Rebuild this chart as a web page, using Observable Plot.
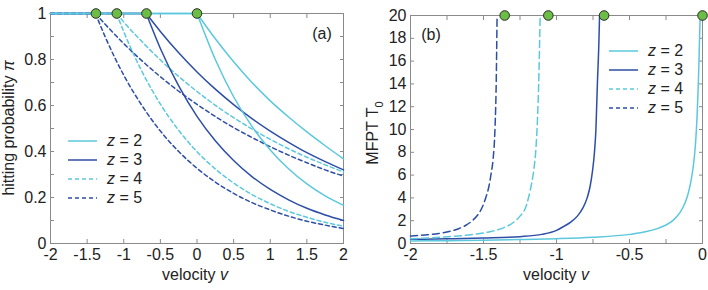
<!DOCTYPE html>
<html><head><meta charset="utf-8">
<script src="https://cdn.jsdelivr.net/npm/d3@7"></script>
<script src="https://cdn.jsdelivr.net/npm/@observablehq/plot@0.6"></script>
<style>
body{margin:0;background:#fff;}
#wrap{position:relative;width:708px;height:290px;font-family:"Liberation Sans",Arial,sans-serif;color:#222;overflow:hidden;}
.pl{position:absolute;top:0;}
.lbl{position:absolute;font-size:16px;white-space:nowrap;transform:translate(-50%,-50%);line-height:1;}
.rot{transform:translate(-50%,-50%) rotate(-90deg);}
.leg{position:absolute;font-size:16px;line-height:1;}
.leg .row{display:flex;align-items:center;height:19px;}
.leg svg{margin-right:10px;}
</style></head><body><div id="wrap"></div>
<script>
// ---------- Panel (a): hitting probability vs velocity ----------
const vCritA = [0, -0.693, -1.099, -1.386];          // z = 2,3,4,5
const dotsA = [-1.38, -1.095, -0.69, 0];

const vA2 = [-2, 0, 0.25, 0.5, 0.75, 1, 1.25, 1.5, 1.75, 2];
const piA2hi = [1, 1, 0.89, 0.79, 0.70, 0.62, 0.55, 0.485, 0.425, 0.368];
const piA2lo = [1, 1, 0.80, 0.638, 0.509, 0.407, 0.325, 0.259, 0.207, 0.166];

const vA3 = [-2, -0.693, -0.5, -0.25, 0, 0.25, 0.5, 0.75, 1, 1.25, 1.5, 1.75, 2];
const piA3hi = [1, 1, 0.922, 0.829, 0.746, 0.671, 0.604, 0.543, 0.489, 0.440, 0.395, 0.356, 0.320];
const piA3lo = [1, 1, 0.848, 0.685, 0.553, 0.447, 0.361, 0.291, 0.235, 0.190, 0.153, 0.124, 0.100];

const vA4 = [-2, -1.099, -1, -0.75, -0.5, -0.25, 0, 0.25, 0.5, 0.75, 1, 1.25, 1.5, 1.75, 2];
const piA4hi = [1, 1, 0.963, 0.877, 0.798, 0.726, 0.661, 0.601, 0.547, 0.498, 0.453, 0.412, 0.375, 0.342, 0.311];
const piA4lo = [1, 1, 0.921, 0.747, 0.606, 0.492, 0.399, 0.324, 0.263, 0.213, 0.173, 0.140, 0.114, 0.092, 0.075];

const vA5 = [-2, -1.386, -1.25, -1, -0.75, -0.5, -0.25, 0, 0.25, 0.5, 0.75, 1, 1.25, 1.5, 1.75, 2];
const piA5hi = [1, 1, 0.952, 0.869, 0.794, 0.725, 0.662, 0.605, 0.552, 0.504, 0.461, 0.421, 0.384, 0.351, 0.320, 0.293];
const piA5lo = [1, 1, 0.896, 0.732, 0.599, 0.489, 0.400, 0.327, 0.267, 0.218, 0.178, 0.146, 0.119, 0.097, 0.080, 0.065];

const xTicksA = [-2, -1.5, -1, -0.5, 0, 0.5, 1, 1.5, 2];
const yTicksA = [0, 0.1, 0.2, 0.3, 0.4, 0.5, 0.6, 0.7, 0.8, 0.9, 1];
const yLabelsA = [0, 0.2, 0.4, 0.6, 0.8, 1];

// ---------- Panel (b): MFPT vs velocity ----------
const dotsB = [-1.355, -1.056, -0.674, 0];

const vB2 = [-2, -1.75, -1.5, -1.25, -1, -0.75, -0.5, -0.4, -0.3, -0.25, -0.2, -0.17, -0.15, -0.12, -0.1, -0.08, -0.065, -0.055, -0.045, -0.037, -0.03, -0.025, -0.021, -0.018, -0.016];
const tB2 = [0.22, 0.25, 0.29, 0.34, 0.42, 0.55, 0.8, 1.0, 1.35, 1.62, 2.05, 2.45, 2.8, 3.55, 4.3, 5.4, 6.6, 7.7, 9.3, 11.2, 13.5, 15.6, 17.6, 19, 20];

const vB3 = [-2, -1.75, -1.5, -1.25, -1.1, -1.0, -0.95, -0.9, -0.857, -0.82, -0.79, -0.77, -0.754, -0.74, -0.73, -0.72, -0.71, -0.705];
const tB3 = [0.37, 0.41, 0.48, 0.6, 0.8, 1.15, 1.5, 1.9, 2.4, 3.1, 4.0, 5.0, 6.3, 8.0, 10, 14, 17.5, 20];

const vB4 = [-2, -1.8, -1.6, -1.45, -1.35, -1.3, -1.25, -1.21, -1.19, -1.17, -1.155, -1.14, -1.13, -1.12, -1.112];
const tB4 = [0.42, 0.55, 0.75, 1.05, 1.45, 1.8, 2.4, 3.2, 4.1, 5.3, 6.5, 8.5, 11, 15, 20];

const vB5 = [-2, -1.9, -1.806, -1.72, -1.67, -1.62, -1.577, -1.54, -1.508, -1.485, -1.463, -1.447, -1.435, -1.421, -1.413, -1.407];
const tB5 = [0.66, 0.75, 0.88, 1.1, 1.3, 1.6, 2.0, 2.5, 3.2, 4.0, 5.0, 6.2, 7.3, 10.2, 14, 20];

const xTicksB = [-2, -1.75, -1.5, -1.25, -1, -0.75, -0.5, -0.25, 0];
const xLabelsB = [-2, -1.5, -1, -0.5, 0];
const yTicksB = [0, 2, 4, 6, 8, 10, 12, 14, 16, 18, 20];

const zLabels = ["2", "3", "4", "5"];

// ---------- styles ----------
const CYAN = "#5cc8dd", DARK = "#2d4ea6", GREEN = "#6cbd45", AXIS = "#8a8a8a";
const styleZ = [
  {stroke: CYAN, dash: null},
  {stroke: DARK, dash: null},
  {stroke: CYAN, dash: "4,3"},
  {stroke: DARK, dash: "4,3"}
];
const FONT = "Liberation Sans, Arial, sans-serif";

const zip = (xs, ys) => xs.map((x, i) => ({x, y: ys[i]}));

const seriesA = [
  {z: 3, vc: vCritA[3], hi: zip(vA5, piA5hi), lo: zip(vA5, piA5lo)},
  {z: 2, vc: vCritA[2], hi: zip(vA4, piA4hi), lo: zip(vA4, piA4lo)},
  {z: 1, vc: vCritA[1], hi: zip(vA3, piA3hi), lo: zip(vA3, piA3lo)},
  {z: 0, vc: vCritA[0], hi: zip(vA2, piA2hi), lo: zip(vA2, piA2lo)}
];
const seriesB = [
  {z: 0, d: zip(vB2, tB2)},
  {z: 1, d: zip(vB3, tB3)},
  {z: 2, d: zip(vB4, tB4)},
  {z: 3, d: zip(vB5, tB5)}
];

function tickAxes(xt, yt) {
  const o = {tickSize: -4, tickFormat: () => "", stroke: AXIS, label: null};
  return [
    Plot.axisX(xt, {anchor: "bottom", ...o}),
    Plot.axisX(xt, {anchor: "top", ...o}),
    Plot.axisY(yt, {anchor: "left", ...o}),
    Plot.axisY(yt, {anchor: "right", ...o})
  ];
}

const lineMarksA = [];
for (const s of seriesA) {
  const st = styleZ[s.z];
  for (const d of [s.hi, s.lo]) {
    const opts = {x: "x", y: "y", stroke: st.stroke, strokeWidth: 1.5, strokeDasharray: st.dash};
    lineMarksA.push(Plot.line(d.filter(p => p.x <= s.vc + 1e-9), {...opts, curve: "linear"}));
    lineMarksA.push(Plot.line(d.filter(p => p.x >= s.vc - 1e-9), {...opts, curve: "monotone-x"}));
  }
}

const plotA = Plot.plot({
  width: 354, height: 290,
  marginLeft: 50, marginRight: 11, marginTop: 13, marginBottom: 47,
  x: {domain: [-2, 2], label: null},
  y: {domain: [0, 1], label: null},
  style: {fontFamily: FONT, fontSize: "16px", color: "#222", background: "transparent", overflow: "visible"},
  marks: [
    Plot.frame({stroke: AXIS}),
    ...tickAxes(xTicksA, yTicksA),
    Plot.axisX(xTicksA, {anchor: "bottom", tickSize: 0, tickPadding: 5, tickFormat: d => String(d), label: null, fill: "#222"}),
    Plot.axisY(yLabelsA, {anchor: "left", tickSize: 0, tickPadding: 4, tickFormat: d => String(d), label: null, fill: "#222"}),
    ...lineMarksA,
    Plot.dot(dotsA, {x: d => d, y: () => 1, r: 4.8, fill: GREEN, stroke: "#2a2a2a", strokeWidth: 1})
  ]
});

const lineMarksB = seriesB.map(s => {
  const st = styleZ[s.z];
  return Plot.line(s.d, {x: "x", y: "y", stroke: st.stroke, strokeWidth: 1.5,
    strokeDasharray: st.dash ? "7,4" : null, curve: "monotone-x"});
});

const plotB = Plot.plot({
  width: 354, height: 290,
  marginLeft: 56, marginRight: 6, marginTop: 15, marginBottom: 47,
  x: {domain: [-2, 0], label: null},
  y: {domain: [0, 20], label: null},
  style: {fontFamily: FONT, fontSize: "16px", color: "#222", background: "transparent", overflow: "visible"},
  marks: [
    Plot.frame({stroke: AXIS}),
    ...tickAxes(xTicksB, yTicksB),
    Plot.axisX(xLabelsB, {anchor: "bottom", tickSize: 0, tickPadding: 5, tickFormat: d => String(d), label: null, fill: "#222"}),
    Plot.axisY(yTicksB, {anchor: "left", tickSize: 0, tickPadding: 4, tickFormat: d => String(d), label: null, fill: "#222"}),
    ...lineMarksB,
    Plot.dot(dotsB, {x: d => d, y: () => 20, r: 4.8, fill: GREEN, stroke: "#2a2a2a", strokeWidth: 1})
  ]
});

const wrap = document.getElementById("wrap");
plotA.classList.add("pl"); plotA.style.left = "0px";
plotB.classList.add("pl"); plotB.style.left = "354px";
wrap.appendChild(plotA);
wrap.appendChild(plotB);

function addLabel(html, x, y, rot) {
  const el = document.createElement("div");
  el.className = "lbl" + (rot ? " rot" : "");
  el.innerHTML = html;
  el.style.left = x + "px";
  el.style.top = y + "px";
  wrap.appendChild(el);
}
addLabel("hitting probability <i>π</i>", 9, 128, true);
addLabel("velocity <i>v</i>", 195, 275, false);
addLabel("(a)", 322, 34, false);
addLabel("MFPT T<sub style='font-size:11px'>0</sub>", 375, 133, true);
addLabel("velocity <i>v</i>", 556, 275, false);
addLabel("(b)", 431, 35, false);

function addLegend(x, y) {
  const leg = document.createElement("div");
  leg.className = "leg";
  leg.style.left = x + "px";
  leg.style.top = y + "px";
  zLabels.forEach((lab, i) => {
    const st = styleZ[i];
    const row = document.createElement("div");
    row.className = "row";
    row.innerHTML = `<svg width="29" height="4"><line x1="0" y1="2" x2="29" y2="2" stroke="${st.stroke}" stroke-width="1.5" ${st.dash ? `stroke-dasharray="${st.dash}"` : ""}/></svg><span><i>z</i> = ${lab}</span>`;
    leg.appendChild(row);
  });
  wrap.appendChild(leg);
}
addLegend(68, 131);
addLegend(609, 41);
</script></body></html>
